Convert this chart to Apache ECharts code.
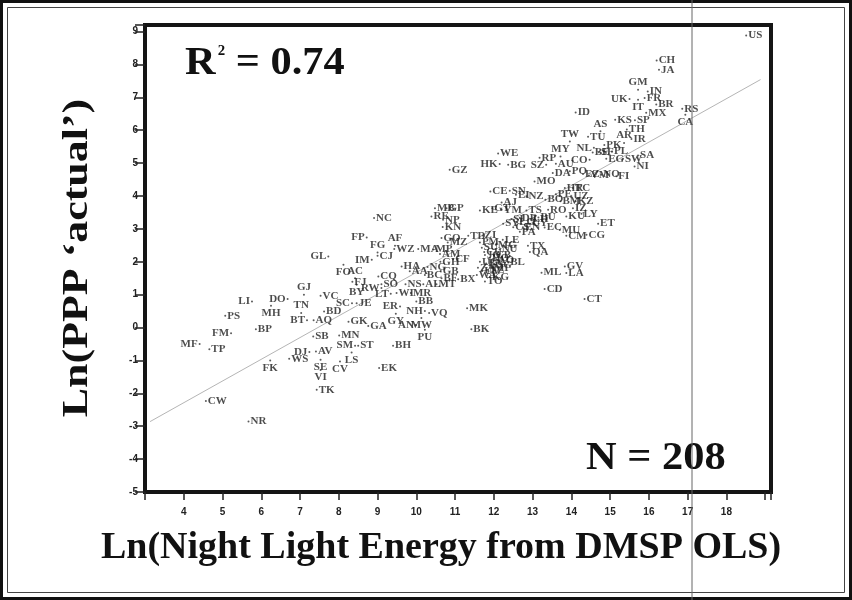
<!DOCTYPE html>
<html>
<head>
<meta charset="utf-8">
<script src="https://cdn.jsdelivr.net/npm/echarts@6/dist/echarts.min.js"></script>
<style>
  html, body { margin: 0; padding: 0; background: #fff; }
  #chart { width: 852px; height: 600px; }
</style>
</head>
<body>
<div id="chart"></div>
<script>
// country codes (FIPS), ln(night light energy), ln(PPP)
const codes = [
  "CW", "NR", "MF", "TP", "FM", "BP", "PS", "LI", "MH", "DO",
  "GJ", "TN", "BT", "AQ", "FK", "WS", "DJ", "AV", "SB", "SE",
  "VI", "TK", "CV", "MN", "SM", "ST", "LS", "GK", "GA", "BD",
  "VC", "SC", "JE", "BH", "EK", "GL", "FO", "AC", "FJ", "BY",
  "RW", "SO", "CQ", "IM", "FG", "CJ", "WZ", "AF", "FP", "NC",
  "NS", "LT", "WI", "MR", "ER", "BB", "NH", "VQ", "GY", "AN",
  "MW", "PU", "MK", "BK", "HA", "AA", "NG", "BC", "AL", "MT",
  "BF", "BX", "MA", "MP", "AM", "GO", "MZ", "CF", "MB", "GP",
  "RE", "NP", "KN", "GZ", "TD", "ZI", "PM", "TO", "CE", "WE",
  "HK", "BG", "RP", "SN", "EI", "NZ", "AJ", "KE", "GT", "YM",
  "TS", "MO", "SZ", "AU", "MY", "BL", "ML", "CD", "CT", "GV",
  "LA", "ET", "MU", "CM", "CG", "KU", "LY", "RO", "IZ", "BO",
  "KZ", "UZ", "HR", "TC", "FI", "NI", "SW", "SA", "EG", "SF",
  "PK", "BE", "CO", "NL", "TU", "TW", "AS", "AR", "IR", "TH",
  "ID", "KS", "SP", "MX", "BR", "IT", "UK", "FR", "IN", "GM",
  "CH", "JA", "RS", "CA", "US", "DA", "PO", "NO", "SU", "JO",
  "UG", "HO", "ZA", "TZ", "WA", "KG", "SG", "NU", "MG", "LE",
  "PA", "TX", "QA", "SY", "DR", "UY", "EC", "EZ", "VM", "GH",
  "GB", "CU", "BN", "UV", "MI", "CB", "AO", "SI", "CS", "LG",
  "EN", "LH", "BU", "BM", "PE", "PL"
];
const nightLight = [
  4.57, 5.67, 4.41, 4.66, 5.22, 5.86, 5.07, 5.76, 6.25, 6.68,
  7.10, 7.03, 7.18, 7.35, 6.23, 6.72, 7.24, 7.41, 7.34, 7.53,
  7.53, 7.43, 8.03, 8.01, 8.42, 8.50, 8.33, 8.25, 8.76, 7.62,
  7.53, 8.34, 8.46, 9.40, 9.04, 7.73, 8.12, 8.42, 8.35, 8.46,
  9.10, 9.10, 9.02, 8.85, 9.00, 9.00, 9.43, 9.45, 8.72, 8.91,
  9.72, 9.34, 9.49, 9.86, 9.58, 10.00, 10.22, 10.33, 9.47, 9.99,
  10.13, 10.22, 11.31, 11.42, 9.62, 9.83, 10.29, 10.22, 10.18, 10.52,
  10.65, 11.08, 10.05, 10.44, 10.61, 10.65, 10.81, 10.95, 10.48, 10.78,
  10.39, 10.69, 10.68, 10.86, 11.34, 11.71, 11.64, 11.77, 11.91, 12.11,
  12.15, 12.37, 13.18, 12.41, 12.57, 12.84, 12.20, 11.64, 11.96, 12.20,
  12.84, 13.05, 13.35, 13.60, 13.72, 12.37, 13.23, 13.31, 14.34, 13.83,
  13.87, 14.69, 13.70, 13.87, 14.39, 13.87, 14.26, 13.40, 14.04, 13.33,
  14.11, 14.00, 13.83, 14.04, 15.16, 15.63, 15.33, 15.72, 14.90, 14.71,
  14.85, 14.55, 14.47, 14.58, 14.43, 13.96, 14.75, 15.36, 15.55, 15.43,
  14.11, 15.13, 15.64, 15.93, 16.19, 15.72, 15.50, 15.89, 15.97, 15.72,
  16.20, 16.26, 16.86, 16.94, 18.51, 13.52, 13.96, 14.77, 11.69, 11.77,
  11.64, 11.90, 11.59, 11.84, 11.56, 11.90, 12.03, 12.15, 12.05, 12.23,
  12.67, 12.88, 12.93, 12.24, 12.67, 12.93, 13.31, 14.30, 14.45, 10.62,
  10.63, 11.75, 11.80, 11.70, 11.95, 12.00, 12.05, 12.45, 12.50, 12.60,
  12.75, 12.95, 13.15, 13.72, 13.60, 15.05
];
const ppp = [
  -2.23, -2.86, -0.50, -0.66, -0.17, -0.05, 0.36, 0.79, 0.66, 0.87,
  1.00, 0.44, 0.22, 0.22, -1.00, -0.95, -0.74, -0.73, -0.27, -0.98,
  -1.29, -1.89, -1.03, -0.24, -0.55, -0.55, -0.76, 0.18, 0.05, 0.49,
  0.97, 0.74, 0.74, -0.55, -1.23, 2.16, 1.91, 1.50, 1.39, 1.30,
  1.20, 1.32, 1.55, 2.06, 2.28, 2.18, 2.39, 2.49, 2.74, 3.33,
  1.32, 1.03, 1.05, 1.05, 0.64, 0.79, 0.50, 0.44, 0.42, 0.08,
  0.29, -0.07, 0.59, -0.05, 1.86, 1.71, 1.84, 1.60, 1.32, 1.32,
  1.50, 1.47, 2.39, 2.37, 2.24, 2.72, 2.59, 2.08, 3.63, 3.63,
  3.38, 3.28, 3.06, 4.80, 2.79, 2.80, 2.59, 1.40, 4.14, 5.29,
  4.97, 4.95, 5.16, 4.16, 4.04, 3.99, 3.80, 3.56, 3.63, 3.58,
  3.56, 4.44, 4.95, 4.98, 5.20, 1.98, 1.67, 1.17, 0.87, 1.86,
  1.66, 3.16, 2.97, 2.79, 2.82, 3.38, 3.46, 3.58, 3.63, 3.89,
  3.84, 3.99, 4.24, 4.24, 4.60, 4.90, 5.13, 5.23, 5.13, 5.33,
  5.55, 5.32, 5.10, 5.47, 5.80, 5.66, 5.97, 5.61, 5.73, 6.02,
  6.54, 6.32, 6.30, 6.53, 6.78, 6.93, 6.95, 6.98, 7.18, 7.23,
  8.12, 7.84, 6.65, 6.47, 8.88, 4.70, 4.75, 4.65, 2.43, 2.21,
  2.00, 2.12, 1.82, 1.76, 1.60, 1.54, 1.91, 2.37, 2.52, 2.67,
  2.91, 2.49, 2.30, 3.16, 3.34, 3.16, 3.04, 4.67, 4.62, 2.00,
  1.72, 2.30, 1.95, 1.72, 1.82, 2.20, 2.05, 3.30, 3.05, 3.20,
  3.05, 3.30, 3.35, 3.84, 4.05, 5.35
];
// least-squares line end points
const fitX = [3.13, 18.88];
const fitY = [-2.86, 7.54];

// where each label sits relative to its dot (default: right)
const labelLeft = ["LI", "DO", "FM", "MF", "BT", "DJ", "GL", "FP", "IM", "RW", "LT", "SC",
  "ER", "AN", "NH", "SM", "HK", "UK", "NL", "CO", "SZ"];
const labelTop = ["GJ", "TN", "AF", "FG", "AC", "GM", "AS", "TW", "AR", "MY"];
const labelBottom = ["MH", "FK", "FO", "BY", "GY", "MW", "PU", "LS", "SE", "CV", "VI", "IT", "CA"];

function labelPos(c) {
  if (labelLeft.includes(c)) return "left";
  if (labelTop.includes(c)) return "top";
  if (labelBottom.includes(c)) return "bottom";
  return "right";
}

const points = codes.map((c, i) => ({
  name: c,
  value: [nightLight[i], ppp[i]],
  label: { position: labelPos(c) }
}));

const chart = echarts.init(document.getElementById("chart"));
const serif = "'Liberation Serif', 'DejaVu Serif', serif";
const sans = "'Liberation Sans', Arial, sans-serif";

chart.setOption({
  animation: false,
  backgroundColor: "#fff",
  grid: {
    left: 145, right: 81, top: 25, bottom: 108,
    show: true, borderColor: "#151515", borderWidth: 4
  },
  xAxis: {
    type: "value",
    min: 3, max: 19.15, interval: 1,
    splitLine: { show: false },
    axisLine: { show: false, onZero: false },
    axisTick: { show: true, inside: false, length: 8, lineStyle: { color: "#222", width: 1.5 } },
    axisLabel: {
      margin: 15, color: "#222", fontFamily: sans, fontWeight: "bold", fontSize: 10,
      formatter: v => (v >= 4 && v <= 18 && Number.isInteger(v)) ? String(v) : ""
    }
  },
  yAxis: {
    type: "value",
    min: -5, max: 9.2, interval: 1,
    splitLine: { show: false },
    axisLine: { show: false, onZero: false },
    axisTick: { show: true, inside: false, length: 10, lineStyle: { color: "#222", width: 1.5 } },
    axisLabel: {
      margin: 7, color: "#222", fontFamily: sans, fontWeight: "bold", fontSize: 10,
      formatter: v => Number.isInteger(v) ? String(v) : ""
    }
  },
  series: [
    {
      type: "line",
      data: fitX.map((x, i) => [x, fitY[i]]),
      showSymbol: false,
      silent: true,
      lineStyle: { color: "#b5b5b5", width: 1 },
      z: 1
    },
    {
      type: "scatter",
      data: points,
      symbol: "circle",
      symbolSize: 2,
      itemStyle: { color: "#333" },
      label: {
        show: true,
        formatter: "{b}",
        distance: 1,
        color: "#1e1e1e",
        fontFamily: serif,
        fontWeight: "bold",
        fontSize: 11
      },
      labelLayout: { hideOverlap: false },
      z: 3
    }
  ],
  graphic: [
    { type: "rect", shape: { x: 1.5, y: 1.5, width: 849, height: 597 },
      style: { fill: null, stroke: "#111", lineWidth: 3 }, silent: true },
    { type: "rect", shape: { x: 7.5, y: 7.5, width: 837, height: 585 },
      style: { fill: null, stroke: "#444", lineWidth: 1 }, silent: true },
    { type: "line", shape: { x1: 692, y1: 0, x2: 692, y2: 600 },
      style: { stroke: "#666", lineWidth: 1 }, silent: true, z: 10 },
    {
      type: "text", x: 185, y: 44, scaleX: 1.06, silent: true,
      style: {
        text: "{r|R}{s|2}{r| = 0.74}",
        rich: {
          r: { fontFamily: serif, fontWeight: "bold", fontSize: 40, fill: "#111" },
          s: { fontFamily: serif, fontWeight: "bold", fontSize: 14, fill: "#111", verticalAlign: "top", padding: [0, 0, 20, 2] }
        }
      }
    },
    {
      type: "text", x: 586, y: 439, scaleX: 1.06, silent: true,
      style: { text: "N = 208", fontFamily: serif, fontWeight: "bold", fontSize: 40, fill: "#111" }
    },
    {
      type: "text", x: 441, y: 548, silent: true,
      style: {
        text: "Ln(Night Light Energy from DMSP OLS)", align: "center", verticalAlign: "middle",
        fontFamily: serif, fontWeight: "bold", fontSize: 38, fill: "#111"
      }
    },
    {
      type: "text", x: 78, y: 258, rotation: Math.PI / 2, scaleX: 1.22, scaleY: 1, silent: true,
      style: {
        text: "Ln(PPP \u2018actual\u2019)", align: "center", verticalAlign: "middle",
        fontFamily: serif, fontWeight: "bold", fontSize: 36, fill: "#111"
      }
    }
  ]
});
</script>
</body>
</html>
